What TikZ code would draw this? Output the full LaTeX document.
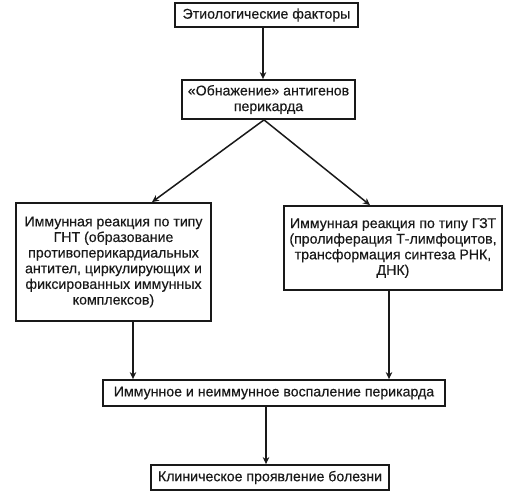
\documentclass[tikz,border=0pt]{standalone}
\usepackage{fontspec}
\setmainfont{Liberation Sans}
\newfontfamily\medfont{Liberation Sans}[BoldFont={Liberation Sans},BoldFeatures={FakeBold=0.35}]
\usetikzlibrary{arrows.meta}
\begin{document}
\begin{tikzpicture}[x=1bp,y=-1bp,
  box/.style={draw=black!90,line width=1.8bp,inner sep=0pt,align=center,font=\medfont\bfseries\fontsize{14.2}{15.7}\selectfont,text=black!90},
  arr/.style={draw=black!90,line width=1.5bp,-{Stealth[length=7bp,width=6.5bp]}}]
\useasboundingbox (0,0) rectangle (530,496);
\node[box,minimum width=183bp,minimum height=24bp] (b1) at (266.5,15) {Этиологические факторы};
\node[box,minimum width=173bp,minimum height=39bp] (b2) at (268.5,99.5) {«Обнажение» антигенов\\перикарда};
\node[box,minimum width=195bp,minimum height=118bp] (b3) at (113.5,262) {Иммунная реакция по типу\\ГНТ (образование\\противоперикардиальных\\антител, циркулирующих и\\фиксированных иммунных\\комплексов)};
\node[box,minimum width=218bp,minimum height=84bp] (b4) at (393,248) {Иммунная реакция по типу ГЗТ\\(пролиферация Т-лимфоцитов,\\трансформация синтеза РНК,\\ДНК)};
\node[box,minimum width=342bp,minimum height=26bp] (b5) at (274,393) {Иммунное и неиммунное воспаление перикарда};
\node[box,minimum width=238bp,minimum height=25bp] (b6) at (270,477.5) {Клиническое проявление болезни};
\coordinate (t1) at (263,0);
\coordinate (t2) at (264,0);
\coordinate (t3) at (152,0);
\coordinate (t4) at (370,0);
\coordinate (t5) at (133,0);
\coordinate (t6) at (389,0);
\coordinate (t7) at (266,0);
\draw[arr] (b1.south -| t1) -- (b2.north -| t1);
\draw[arr] (b2.south -| t2) -- (b3.north -| t3);
\draw[arr] (b2.south -| t2) -- (b4.north -| t4);
\draw[arr] (b3.south -| t5) -- (b5.north -| t5);
\draw[arr] (b4.south -| t6) -- (b5.north -| t6);
\draw[arr] (b5.south -| t7) -- (b6.north -| t7);
\end{tikzpicture}
\end{document}
